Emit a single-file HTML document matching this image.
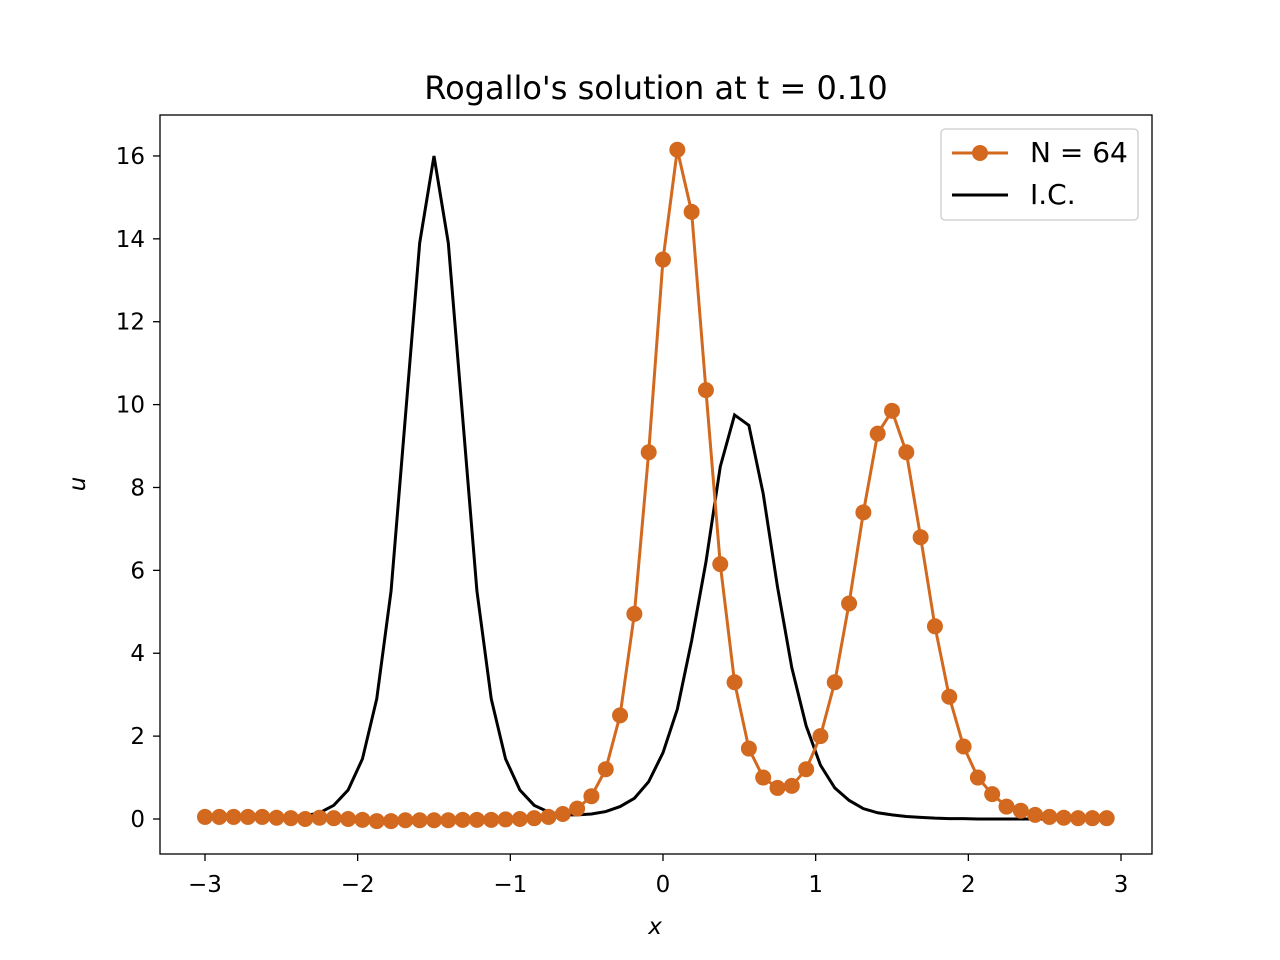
<!DOCTYPE html>
<html><head><meta charset="utf-8"><style>
body{margin:0;background:#fff;}
svg{display:block;font-family:"DejaVu Sans","Liberation Sans",sans-serif;}
</style></head><body>
<svg id="chart" width="1280" height="960">
<rect x="0" y="0" width="1280" height="960" fill="#fff"/>
<text x="656" y="99" text-anchor="middle" style="font-size:32px">Rogallo's solution at t = 0.10</text>
<g id="ticks"></g>
<g id="series"></g>
<rect x="160" y="115" width="992" height="739" fill="none" stroke="#000" stroke-width="1.3"/>
<text x="655" y="934" text-anchor="middle" style="font-size:23px;font-style:italic">x</text>
<text x="85" y="484" text-anchor="middle" style="font-size:23px;font-style:italic" transform="rotate(-90 85 484)">u</text>
<g>
<rect x="941" y="129" width="197" height="91" rx="4" fill="#fff" stroke="#ccc" stroke-width="1.3"/>
<line x1="952" y1="153" x2="1008" y2="153" stroke="#d2691e" stroke-width="3"/>
<circle cx="980" cy="153" r="8" fill="#d2691e"/>
<text x="1030" y="162" style="font-size:28px">N = 64</text>
<line x1="952" y1="195" x2="1008" y2="195" stroke="#000" stroke-width="3"/>
<text x="1030" y="204" style="font-size:28px">I.C.</text>
</g>
</svg>
<script>
const xTicks=[-3,-2,-1,0,1,2,3];
const yTicks=[0,2,4,6,8,10,12,14,16];
const numPoints=64;
const solution=[0.05,0.05,0.05,0.05,0.05,0.03,0.02,0.0,0.03,0.02,0.0,-0.02,-0.05,-0.05,-0.03,-0.03,-0.03,-0.03,-0.02,-0.02,-0.02,-0.01,0.0,0.02,0.05,0.12,0.25,0.55,1.2,2.5,4.95,8.85,13.5,16.15,14.65,10.35,6.15,3.3,1.7,1.0,0.75,0.8,1.2,2.0,3.3,5.2,7.4,9.3,9.85,8.85,6.8,4.65,2.95,1.75,1.0,0.6,0.3,0.2,0.1,0.05,0.03,0.02,0.02,0.02];
const initial=[0,0,0.01,0.01,0.02,0.04,0.06,0.08,0.15,0.33,0.7,1.45,2.9,5.5,9.7,13.9,16.0,13.9,9.7,5.5,2.9,1.45,0.7,0.33,0.17,0.1,0.1,0.12,0.18,0.3,0.5,0.9,1.6,2.65,4.3,6.2,8.5,9.75,9.5,7.85,5.6,3.65,2.25,1.3,0.75,0.45,0.25,0.15,0.1,0.06,0.04,0.02,0.01,0.01,0,0,0,0,0,0,0,0,0,0];
const X=v=>663+v*152.67, Y=v=>819-v*41.44;
const NS="http://www.w3.org/2000/svg";
const tg=document.getElementById('ticks'), sg=document.getElementById('series');
function mk(tag,a,p){const e=document.createElementNS(NS,tag);for(const k in a)e.setAttribute(k,a[k]);p.appendChild(e);return e;}
xTicks.forEach(t=>{
 const l=mk('line',{x1:X(t),x2:X(t),y1:854,y2:861,stroke:'#000','stroke-width':1.3},tg);
 
 
 const s=mk('text',{x:X(t),y:892,'text-anchor':'middle',style:'font-size:23px'},tg);
 s.textContent=(t<0?'\u2212'+(-t):t);
 
 
});
yTicks.forEach(t=>{
 const l=mk('line',{x1:153,x2:160,y1:Y(t),y2:Y(t),stroke:'#000','stroke-width':1.3},tg);
 
 
 const s=mk('text',{x:145,y:Y(t)+8,'text-anchor':'end',style:'font-size:23px'},tg);
 s.textContent=t;
 
 
});
const xs=[];for(let i=0;i<numPoints;i++)xs.push(-3+i*6/numPoints);
const pl=mk('polyline',{points:xs.map((x,i)=>X(x)+','+Y(initial[i])).join(' '),fill:'none',stroke:'#000','stroke-width':3},sg);


const ps=mk('polyline',{points:xs.map((x,i)=>X(x)+','+Y(solution[i])).join(' '),fill:'none',stroke:'#d2691e','stroke-width':3},sg);


xs.forEach((x,i)=>{
 const c=mk('circle',{cx:X(x),cy:Y(solution[i]),r:8,fill:'#d2691e'},sg);
 
 
});
</script>
</body></html>
